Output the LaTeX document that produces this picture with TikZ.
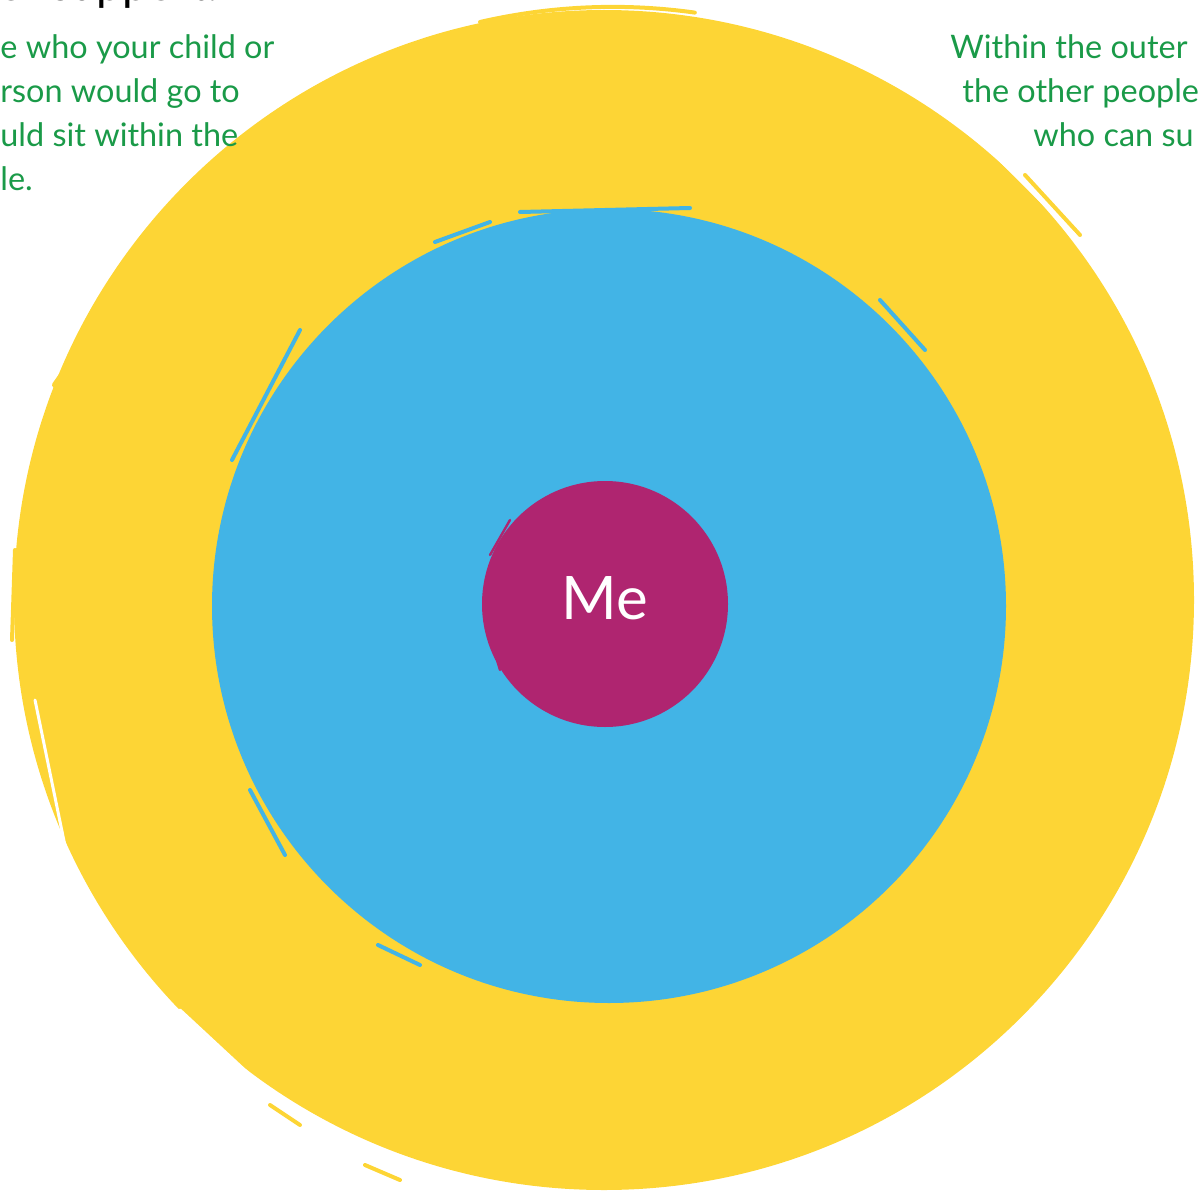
\documentclass[tikz,border=0pt]{standalone}
\usepackage{fontspec}
\setmainfont{Lato}
\definecolor{ringyellow}{HTML}{FDD535}
\definecolor{ringblue}{HTML}{42B4E6}
\definecolor{memag}{HTML}{AF2570}
\definecolor{txtgreen}{HTML}{1A9A48}
\begin{document}
\begin{tikzpicture}[x=0.5pt,y=-0.5pt,
  greentxt/.style={text=txtgreen,font=\fontsize{16.2}{22}\selectfont,inner sep=0pt},
  streak/.style={line width=2pt,line cap=round}]
\useasboundingbox (0,0) rectangle (1200,1193);
\clip (0,0) rectangle (1200,1193);
% outer ring
\fill[ringyellow] (604,600) circle (590);
% brush streaks around the outer ring
\draw[streak,ringyellow] (480,22) arc[start angle=-103,end angle=-82,radius=590];
\draw[streak,ringyellow] (355,70) -- (435,42);
\draw[streak,ringyellow,line width=3pt] (55,385) -- (160,235);
\draw[streak,ringyellow] (1025,175) -- (1080,235);
\draw[streak,ringyellow] (270,1105) -- (300,1125);
\draw[streak,ringyellow] (365,1165) -- (400,1180);
\draw[streak,ringyellow] (15,550) -- (12,640);
% white gaps in the outer ring
\draw[streak,white,line width=1.5pt] (35,700) -- (72,880);
\draw[streak,white,line width=1.5pt] (82,880) -- (130,975);
\draw[streak,white,line width=1.5pt] (180,1010) -- (250,1075);
\draw[streak,white,line width=1.5pt] (1000,160) -- (1075,235);
% blue disc
\fill[ringblue] (609,606) circle (397);
\draw[streak,ringblue] (520,212) -- (690,208);
\draw[streak,ringblue] (435,242) -- (490,222);
\draw[streak,ringblue] (232,460) -- (300,330);
\draw[streak,ringblue] (250,790) -- (285,855);
\draw[streak,ringblue] (378,945) -- (420,965);
\draw[streak,ringblue] (880,300) -- (925,350);
% magenta disc
\fill[memag] (605,604) circle (123);
\draw[streak,memag,line width=1.2pt] (490,555) -- (510,520);
\draw[streak,memag,line width=1.2pt] (485,620) -- (500,670);
\node[text=white,font=\fontsize{30}{36}\selectfont,inner sep=0pt] (me) at (605,598) {Me};
% texts
\node[anchor=base west,font=\fontsize{23}{26}\selectfont,inner sep=0pt] (head) at (-2,1) {er support.};
\node[greentxt,anchor=north west,align=left] (lefttxt) at (0,34)
  {e who your child or\\rson would go to\\uld sit within the\\le.};
\node[greentxt,anchor=north west,align=left] (righttxt) at (950,34)
  {Within the outer\\\hspace*{6pt}the other people\\\hspace*{41.5pt}who can su};
\end{tikzpicture}
\end{document}
